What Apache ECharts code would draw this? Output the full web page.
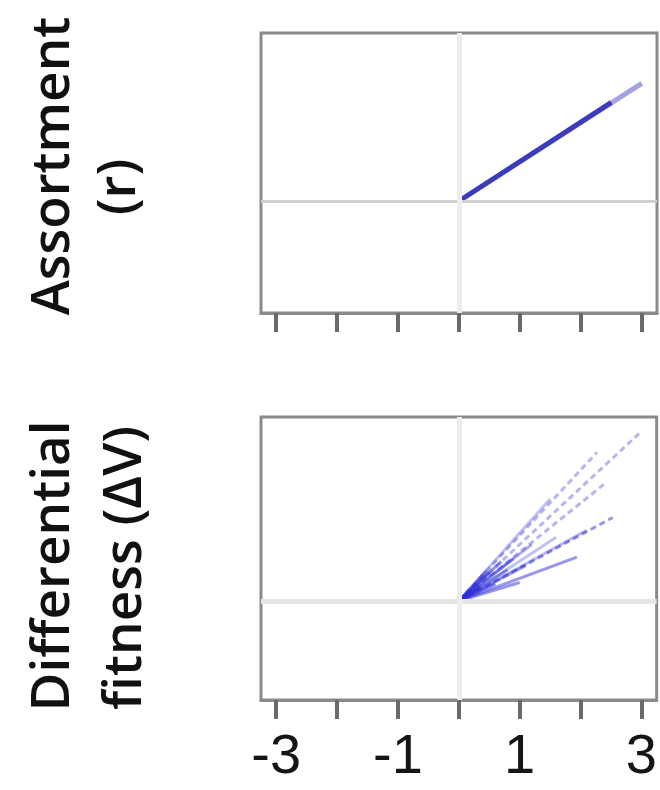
<!DOCTYPE html>
<html>
<head>
<meta charset="utf-8">
<script src="https://cdn.jsdelivr.net/npm/echarts@6/dist/echarts.min.js"></script>
<style>
html,body{margin:0;padding:0;background:#fff;}
#chart{width:660px;height:790px;}
</style>
</head>
<body>
<div id="chart"></div>
<script>
// ---- data ----
const xTicks = [-3, -2, -1, 0, 1, 2, 3];
const xTickLabels = [-3, -1, 1, 3];

// Assortment (r) vs x : lines from the origin
const assortEndX = [2.5, 3.0];
const assortEndY = [0.88, 1.05];

// Differential fitness (ΔV) vs x : fan of lines from the origin
const fitnessEndX = [2.98, 2.27, 2.43, 2.53, 1.94, 1.0, 1.5, 2.1, 1.2, 0.9, 0.6, 1.6, 0.7, 0.5, 0.8, 1.1, 0.45, 0.35];
const fitnessEndY = [1.19, 1.05, 0.84, 0.59, 0.31, 0.13, 0.72, 0.50, 0.40, 0.30, 0.12, 0.45, 0.28, 0.20, 0.22, 0.25, 0.21, 0.10];

const yLabelTop = ['Assortment', '(r)'];
const yLabelBottom = ['Differential', 'fitness (ΔV)'];

// ---- styles ----
const assortAlpha = [0.9, 0.45];
const fitnessAlpha = [0.35, 0.35, 0.35, 0.5, 0.5, 0.5, 0.3, 0.35, 0.4, 0.45, 0.6, 0.3, 0.5, 0.6, 0.5, 0.4, 0.6, 0.7];

const chart = echarts.init(document.getElementById('chart'), null, {renderer: 'canvas'});

function xAxisFor(gridIndex, showLabels) {
  return {
    type: 'value', gridIndex: gridIndex, min: -3.25, max: 3.25,
    position: 'bottom',
    axisLine: {show: true, onZero: false, lineStyle: {color: '#8a8a8a', width: 3}},
    axisTick: {show: true, customValues: xTicks, length: 19, inside: false,
               lineStyle: {color: '#6a6a6a', width: 4}},
    axisLabel: {show: showLabels, customValues: xTickLabels, margin: 30,
                fontFamily: 'Liberation Sans, Arial, sans-serif', fontSize: 56, color: '#151515'},
    splitLine: {show: false}
  };
}
function yAxisFor(gridIndex, mn, mx) {
  return {
    type: 'value', gridIndex: gridIndex, min: mn, max: mx,
    axisLine: {show: false}, axisTick: {show: false}, axisLabel: {show: false},
    splitLine: {show: false}
  };
}

function refLines(hColor, hWidth, vColor, vWidth) {
  return {
    silent: true, symbol: 'none', label: {show: false},
    data: [
      {yAxis: 0, lineStyle: {color: hColor, width: hWidth, type: 'solid'}},
      {xAxis: 0, lineStyle: {color: vColor, width: vWidth, type: 'solid'}}
    ]
  };
}

const series = [];
assortEndX.forEach(function (ex, i) {
  series.push({
    type: 'line', xAxisIndex: 0, yAxisIndex: 0, symbol: 'none', silent: true,
    data: [[0, 0], [ex, assortEndY[i]]],
    lineStyle: {color: '#3030b8', width: 5, opacity: assortAlpha[i]},
    z: 3,
    markLine: i === 0 ? refLines('#cfcfcf', 3, '#ededed', 5) : undefined
  });
});
fitnessEndX.forEach(function (ex, i) {
  series.push({
    type: 'line', xAxisIndex: 1, yAxisIndex: 1, symbol: 'none', silent: true,
    data: [[0, 0], [ex, fitnessEndY[i]]],
    lineStyle: {color: '#2d2dd8', width: 3, opacity: fitnessAlpha[i],
                type: i < 4 ? [6, 4] : 'solid'},
    z: 3,
    markLine: i === 0 ? refLines('#e6e6e6', 5, '#ededed', 5) : undefined
  });
});

const labelFont = 'Open Sans, Noto Sans, sans-serif';
function vText(txt, x, y) {
  return {
    type: 'text', x: x, y: y, rotation: Math.PI / 2, silent: true,
    style: {text: txt, fontFamily: labelFont, fontSize: 53, fontWeight: 600, fill: '#111',
            align: 'center', verticalAlign: 'middle'}
  };
}

chart.setOption({
  animation: false,
  backgroundColor: '#fff',
  grid: [
    {left: 261, right: 3, top: 33, height: 280, show: true, borderColor: '#8a8a8a', borderWidth: 3, backgroundColor: '#fff'},
    {left: 261, right: 3, top: 417, height: 283, show: true, borderColor: '#8a8a8a', borderWidth: 3, backgroundColor: '#fff'}
  ],
  xAxis: [xAxisFor(0, false), xAxisFor(1, true)],
  yAxis: [yAxisFor(0, -1, 1.5), yAxisFor(1, -0.7, 1.3)],
  series: series,
  graphic: [
    vText(yLabelTop[0], 54, 166),
    vText(yLabelTop[1], 120, 187),
    vText(yLabelBottom[0], 54, 566),
    vText(yLabelBottom[1], 126, 568)
  ]
});
</script>
</body>
</html>
